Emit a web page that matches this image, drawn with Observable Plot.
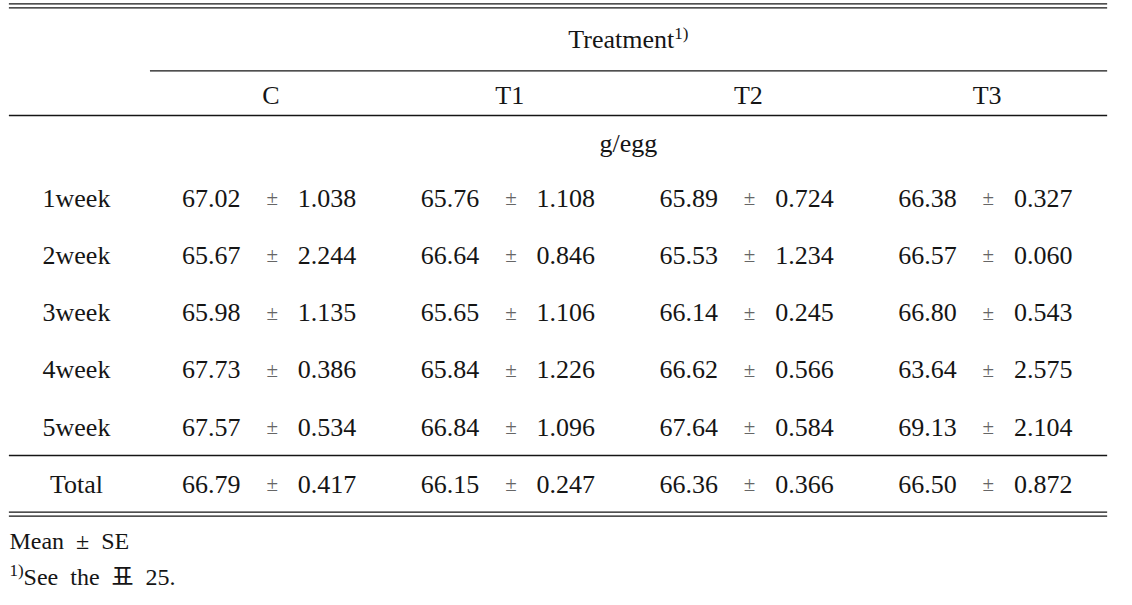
<!DOCTYPE html>
<html>
<head>
<meta charset="utf-8">
<script src="https://cdn.jsdelivr.net/npm/d3@7"></script>
<script src="https://cdn.jsdelivr.net/npm/@observablehq/plot@0.6"></script>
<style>
  html, body { margin: 0; padding: 0; background: #fff; }
</style>
</head>
<body>
<div id="chart"></div>
<script>
// ---- data ----
const rowLabels = ["1week", "2week", "3week", "4week", "5week", "Total"];
const treatments = ["C", "T1", "T2", "T3"];
const meanC  = [67.02, 65.67, 65.98, 67.73, 67.57, 66.79];
const seC    = [1.038, 2.244, 1.135, 0.386, 0.534, 0.417];
const meanT1 = [65.76, 66.64, 65.65, 65.84, 66.84, 66.15];
const seT1   = [1.108, 0.846, 1.106, 1.226, 1.096, 0.247];
const meanT2 = [65.89, 65.53, 66.14, 66.62, 67.64, 66.36];
const seT2   = [0.724, 1.234, 0.245, 0.566, 0.584, 0.366];
const meanT3 = [66.38, 66.57, 66.80, 63.64, 69.13, 66.50];
const seT3   = [0.327, 0.060, 0.543, 2.575, 2.104, 0.872];
const spanner = "Treatment{1)}";
const unitLabel = "g/egg";
const notes = ["Mean ± SE", "{1)}See the 표 25."];

// ---- layout (in column / row units) ----
const LABEL_X = -0.815, MEAN_OFF = -0.25, PM_OFF = 0.005, SE_OFF = 0.235;
const LEFT = -1.096, RIGHT = 3.505, SPAN_LEFT = -0.505;
const Y_SPANNER = -2.78, Y_GROUP = -1.79, Y_UNIT = -0.95;
const rules = [
  {y: -3.404, x1: LEFT, x2: RIGHT},
  {y: -3.334, x1: LEFT, x2: RIGHT},
  {y: -2.232, x1: SPAN_LEFT, x2: RIGHT},
  {y: -1.451, x1: LEFT, x2: RIGHT},
  {y: 4.493, x1: LEFT, x2: RIGHT},
  {y: 5.484, x1: LEFT, x2: RIGHT},
  {y: 5.554, x1: LEFT, x2: RIGHT}
];
const noteY = [5.99, 6.62];

const means = [meanC, meanT1, meanT2, meanT3];
const ses = [seC, seT1, seT2, seT3];
const cells = [];
treatments.forEach((t, c) => rowLabels.forEach((r, i) => cells.push({col: c, row: i, mean: means[c][i], se: ses[c][i]})));

const ink = "#151515";
const fs = 26;

const chart = Plot.plot({
  width: 1132,
  height: 605,
  margin: 0,
  x: {type: "linear", domain: [0, 3], range: [270.5, 986.6], axis: null},
  y: {type: "linear", domain: [0, 5], range: [198, 484], axis: null},
  style: {fontFamily: "'Liberation Serif', 'Noto Sans CJK KR', serif", background: "#fff", wordSpacing: "6px"},
  marks: [
    Plot.ruleY(rules, {y: "y", x1: "x1", x2: "x2", stroke: ink, strokeWidth: 1.3}),
    Plot.text([spanner], {x: 1.497, y: Y_SPANNER, text: d => d, fontSize: fs, fill: ink}),
    Plot.text(treatments, {x: (d, i) => i, y: Y_GROUP, text: d => d, fontSize: fs, fill: ink}),
    Plot.text([unitLabel], {x: 1.497, y: Y_UNIT, text: d => d, fontSize: fs, fill: ink}),
    Plot.text(rowLabels, {x: LABEL_X, y: (d, i) => i, text: d => d, fontSize: fs, fill: ink}),
    Plot.text(cells, {x: d => d.col + MEAN_OFF, y: "row", text: d => d.mean.toFixed(2), fontSize: fs, fill: ink}),
    Plot.text(cells, {x: d => d.col + PM_OFF, y: "row", text: () => "±", fontSize: 21, fill: "#666"}),
    Plot.text(cells, {x: d => d.col + SE_OFF, y: "row", text: d => d.se.toFixed(3), fontSize: fs, fill: ink}),
    Plot.text(notes, {x: LEFT, y: (d, i) => noteY[i], text: d => d, textAnchor: "start", fontSize: 24, fill: ink})
  ]
});

// superscripts: text wrapped in {...}
d3.select(chart).selectAll("text").each(function() {
  const s = this.textContent;
  if (!s.includes("{")) return;
  const parts = s.split(/(\{[^}]*\})/).filter(p => p.length);
  const el = d3.select(this);
  el.text(null);
  let shifted = false;
  parts.forEach(p => {
    if (p.startsWith("{")) {
      el.append("tspan").attr("font-size", 17).attr("dy", shifted ? 0 : -9).text(p.slice(1, -1));
      shifted = true;
    } else {
      const t = el.append("tspan").text(p);
      if (shifted) { t.attr("dy", 9); shifted = false; }
    }
  });
});

document.getElementById("chart").appendChild(chart);
</script>
</body>
</html>
